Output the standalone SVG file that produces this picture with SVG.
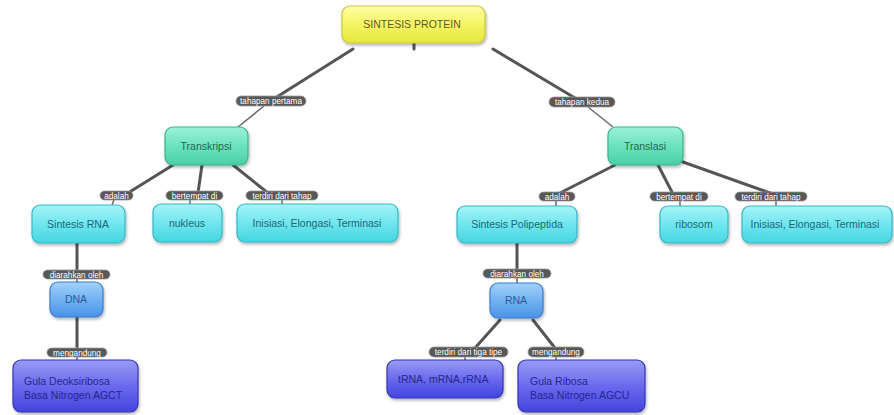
<svg xmlns="http://www.w3.org/2000/svg" width="894" height="415" viewBox="0 0 894 415">
<defs>
<linearGradient id="gY" x1="0" y1="0" x2="0" y2="1"><stop offset="0" stop-color="#ffffa8"/><stop offset="0.5" stop-color="#f4f462"/><stop offset="1" stop-color="#e6e640"/></linearGradient>
<linearGradient id="gT" x1="0" y1="0" x2="0" y2="1"><stop offset="0" stop-color="#9af2d8"/><stop offset="0.5" stop-color="#6ce2be"/><stop offset="1" stop-color="#48d0a6"/></linearGradient>
<linearGradient id="gC" x1="0" y1="0" x2="0" y2="1"><stop offset="0" stop-color="#a4f4f8"/><stop offset="0.5" stop-color="#70e6ee"/><stop offset="1" stop-color="#44d6e2"/></linearGradient>
<linearGradient id="gB" x1="0" y1="0" x2="0" y2="1"><stop offset="0" stop-color="#a2d2fa"/><stop offset="0.5" stop-color="#72b2f2"/><stop offset="1" stop-color="#4a92e6"/></linearGradient>
<linearGradient id="gP" x1="0" y1="0" x2="0" y2="1"><stop offset="0" stop-color="#9a9af6"/><stop offset="0.5" stop-color="#6a6aee"/><stop offset="1" stop-color="#4444de"/></linearGradient>
<filter id="sh" x="-10%" y="-10%" width="125%" height="140%"><feDropShadow dx="1" dy="2" stdDeviation="1.5" flood-color="#000" flood-opacity="0.3"/></filter>
<style>
.n{filter:url(#sh);stroke-width:1.2}
.y{fill:url(#gY);stroke:#c9c93a}
.t{fill:url(#gT);stroke:#3bb48e}
.c{fill:url(#gC);stroke:#36b6c6}
.b{fill:url(#gB);stroke:#3a7cd0}
.p{fill:url(#gP);stroke:#3434b8}
text{font-family:"Liberation Sans",Arial,sans-serif}
.nt{font-size:10.5px;text-anchor:middle}
.ty{fill:#5c5c28}
.tt{fill:#1d6a52}
.tc{fill:#1b6878}
.tb{fill:#2a5a9c}
.tp{fill:#26268e;font-size:10.5px}
.thick{stroke:#555;stroke-width:3;fill:none;stroke-linecap:round}
.thin{stroke:#666;stroke-width:1.5;fill:none}
.lb rect{fill:#585858;stroke:#999;stroke-width:0.8}
.lb text{fill:#fff;font-size:8.2px;text-anchor:middle}
</style>
</defs>
<rect width="894" height="415" fill="#fff"/>
<g id="connectors">
<line class="thick" x1="353" y1="49" x2="272" y2="100"/>
<line class="thick" x1="414" y1="43" x2="414" y2="49"/>
<line class="thick" x1="493" y1="49" x2="580" y2="101"/>
<line class="thin" x1="264" y1="106" x2="238" y2="127"/>
<line class="thin" x1="588" y1="107" x2="613" y2="127"/>
<line class="thick" x1="173" y1="165" x2="128" y2="193"/>
<line class="thick" x1="202" y1="165" x2="198" y2="193"/>
<line class="thick" x1="233" y1="165" x2="268" y2="193"/>
<line class="thin" x1="114" y1="200" x2="112" y2="205"/>
<line class="thin" x1="190" y1="200" x2="190" y2="204"/>
<line class="thin" x1="282" y1="200" x2="282" y2="204"/>
<line class="thick" x1="77" y1="243" x2="77" y2="272"/>
<line class="thin" x1="77" y1="278" x2="77" y2="282"/>
<line class="thick" x1="77" y1="317" x2="77" y2="350"/>
<line class="thin" x1="77" y1="356" x2="77" y2="360"/>
<line class="thick" x1="615" y1="165" x2="558" y2="194"/>
<line class="thick" x1="658" y1="165" x2="673" y2="194"/>
<line class="thick" x1="683" y1="162" x2="773" y2="194"/>
<line class="thin" x1="556" y1="201" x2="556" y2="206"/>
<line class="thin" x1="680" y1="201" x2="680" y2="206"/>
<line class="thin" x1="776" y1="201" x2="776" y2="206"/>
<line class="thick" x1="517" y1="243" x2="517" y2="271"/>
<line class="thin" x1="517" y1="278" x2="517" y2="283"/>
<line class="thick" x1="500" y1="320" x2="475" y2="348"/>
<line class="thick" x1="533" y1="320" x2="555" y2="348"/>
<line class="thin" x1="465" y1="357" x2="465" y2="360"/>
<line class="thin" x1="556" y1="357" x2="556" y2="360"/>
<g class="lb">
<rect x="236" y="96" width="70" height="10" rx="5"/><text x="271" y="104">tahapan pertama</text>
<rect x="549" y="97" width="66" height="10" rx="5"/><text x="582" y="105">tahapan kedua</text>
<rect x="100" y="191" width="33" height="9" rx="4.5"/><text x="116.5" y="198.5">adalah</text>
<rect x="166" y="191" width="57" height="9" rx="4.5"/><text x="194.5" y="198.5">bertempat di</text>
<rect x="246" y="191" width="72" height="9" rx="4.5"/><text x="282" y="198.5">terdiri dari tahap</text>
<rect x="43" y="270" width="67" height="9" rx="4.5"/><text x="76.5" y="277.5">diarahkan oleh</text>
<rect x="47" y="348" width="60" height="9" rx="4.5"/><text x="77" y="355.5">mengandung</text>
<rect x="539" y="192" width="36" height="9" rx="4.5"/><text x="557" y="199.5">adalah</text>
<rect x="650" y="192" width="58" height="9" rx="4.5"/><text x="679" y="199.5">bertempat di</text>
<rect x="735" y="192" width="72" height="9" rx="4.5"/><text x="771" y="199.5">terdiri dari tahap</text>
<rect x="483" y="269" width="68" height="9" rx="4.5"/><text x="517" y="276.5">diarahkan oleh</text>
<rect x="429" y="347" width="79" height="10" rx="5"/><text x="468.5" y="355">terdiri dari tiga tipe</text>
<rect x="528" y="347" width="56" height="10" rx="5"/><text x="556" y="355">mengandung</text>
</g>
</g>
<g id="root"><rect class="n y" x="342" y="6" width="143" height="37" rx="8"/><text class="nt ty" x="412" y="28">SINTESIS PROTEIN</text></g>
<g id="transkripsi"><rect class="n t" x="165" y="127" width="83" height="38" rx="8"/><text class="nt tt" x="206" y="150">Transkripsi</text></g>
<g id="translasi"><rect class="n t" x="608" y="127" width="75" height="38" rx="8"/><text class="nt tt" x="645" y="150">Translasi</text></g>
<g id="sintesis-rna"><rect class="n c" x="32" y="205" width="93" height="38" rx="8"/><text class="nt tc" x="78" y="228">Sintesis RNA</text></g>
<g id="nukleus"><rect class="n c" x="153" y="204" width="69" height="38" rx="8"/><text class="nt tc" x="187" y="227">nukleus</text></g>
<g id="tahap-1"><rect class="n c" x="237" y="204" width="161" height="38" rx="8"/><text class="nt tc" x="317" y="227">Inisiasi, Elongasi, Terminasi</text></g>
<g id="sintesis-polipeptida"><rect class="n c" x="457" y="206" width="120" height="37" rx="8"/><text class="nt tc" x="517" y="228">Sintesis Polipeptida</text></g>
<g id="ribosom"><rect class="n c" x="660" y="206" width="68" height="37" rx="8"/><text class="nt tc" x="694" y="228">ribosom</text></g>
<g id="tahap-2"><rect class="n c" x="742" y="206" width="150" height="37" rx="8"/><text class="nt tc" x="815" y="228">Inisiasi, Elongasi, Terminasi</text></g>
<g id="dna"><rect class="n b" x="50" y="282" width="53" height="35" rx="8"/><text class="nt tb" x="76" y="303">DNA</text></g>
<g id="rna"><rect class="n b" x="490" y="283" width="53" height="35" rx="8"/><text class="nt tb" x="516" y="304">RNA</text></g>
<g id="gula-deoksiribosa"><rect class="n p" x="13" y="360" width="125" height="52" rx="8"/><text class="tp" x="24" y="385">Gula Deoksiribosa</text><text class="tp" x="24" y="399">Basa Nitrogen AGCT</text></g>
<g id="trna"><rect class="n p" x="387" y="360" width="116" height="38" rx="8"/><text class="tp" x="398" y="383">tRNA, mRNA,rRNA</text></g>
<g id="gula-ribosa"><rect class="n p" x="518" y="360" width="127" height="52" rx="8"/><text class="tp" x="530" y="385">Gula Ribosa</text><text class="tp" x="530" y="399">Basa Nitrogen AGCU</text></g>
</svg>
